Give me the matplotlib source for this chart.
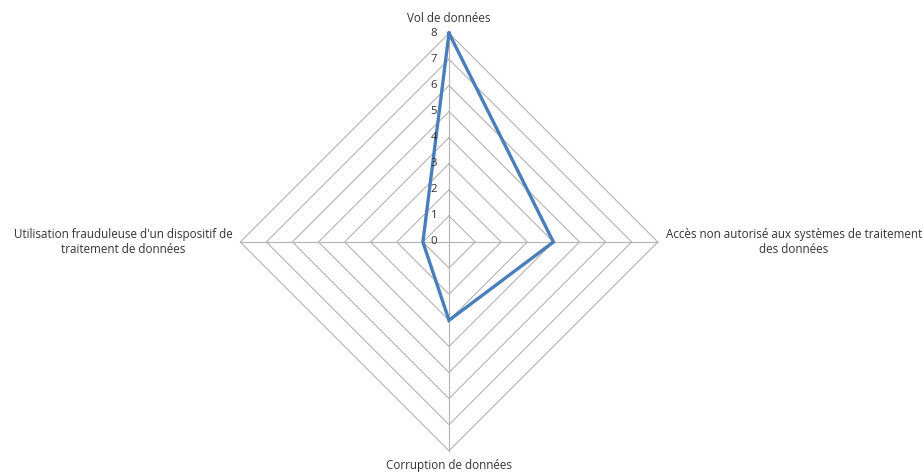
import numpy as np
import matplotlib
matplotlib.use("Agg")
from matplotlib import pyplot as plt

categories = [
    "Vol de données",
    "Accès non autorisé aux systèmes de traitement\ndes données",
    "Corruption de données",
    "Utilisation frauduleuse d'un dispositif de\ntraitement de données",
]
values = [8, 4, 3, 1]
ticks = [0, 1, 2, 3, 4, 5, 6, 7, 8]

plt.rcParams['font.family'] = ['Open Sans', 'DejaVu Sans']

fig = plt.figure(figsize=(9.24, 4.75), dpi=100)
ax = fig.add_axes([0, 0, 1, 1])
scale = 26.1  # pixels per unit
cx, cy = 449, 242
ax.set_xlim(-cx / scale, (924 - cx) / scale)
ax.set_ylim(-(475 - cy) / scale, cy / scale)
ax.axis('off')

angles = np.arange(len(categories)) * 2 * np.pi / len(categories)
sx, sy = np.sin(angles), np.cos(angles)

grid_color = '#b3b3b3'
for r in ticks[1:]:
    ax.plot(np.append(sx, sx[0]) * r, np.append(sy, sy[0]) * r,
            color=grid_color, lw=0.8, zorder=1)
rmax = ticks[-1]
for x, y in zip(sx, sy):
    ax.plot([0, x * rmax], [0, y * rmax], color=grid_color, lw=0.8, zorder=1)

v = np.array(values, dtype=float)
ax.plot(np.append(sx * v, sx[0] * v[0]), np.append(sy * v, sy[0] * v[0]),
        color='#4a7ebb', lw=2.4, solid_joinstyle='miter', zorder=3)

txt = '#333333'
for t in ticks:
    ax.text(-0.45, t, str(t), ha='right', va='center', fontsize=8.2, color=txt)

off = 0.3
fs = 8.4
ax.text(0, rmax + off, categories[0], ha='center', va='bottom', fontsize=fs, color=txt)
ax.text(rmax + off, 0, categories[1], ha='left', va='center', fontsize=fs,
        color=txt, multialignment='center')
ax.text(0, -rmax - off, categories[2], ha='center', va='top', fontsize=fs, color=txt)
ax.text(-rmax - off, 0, categories[3], ha='right', va='center', fontsize=fs,
        color=txt, multialignment='center')

fig.savefig('out.png', dpi=100, facecolor='white')
